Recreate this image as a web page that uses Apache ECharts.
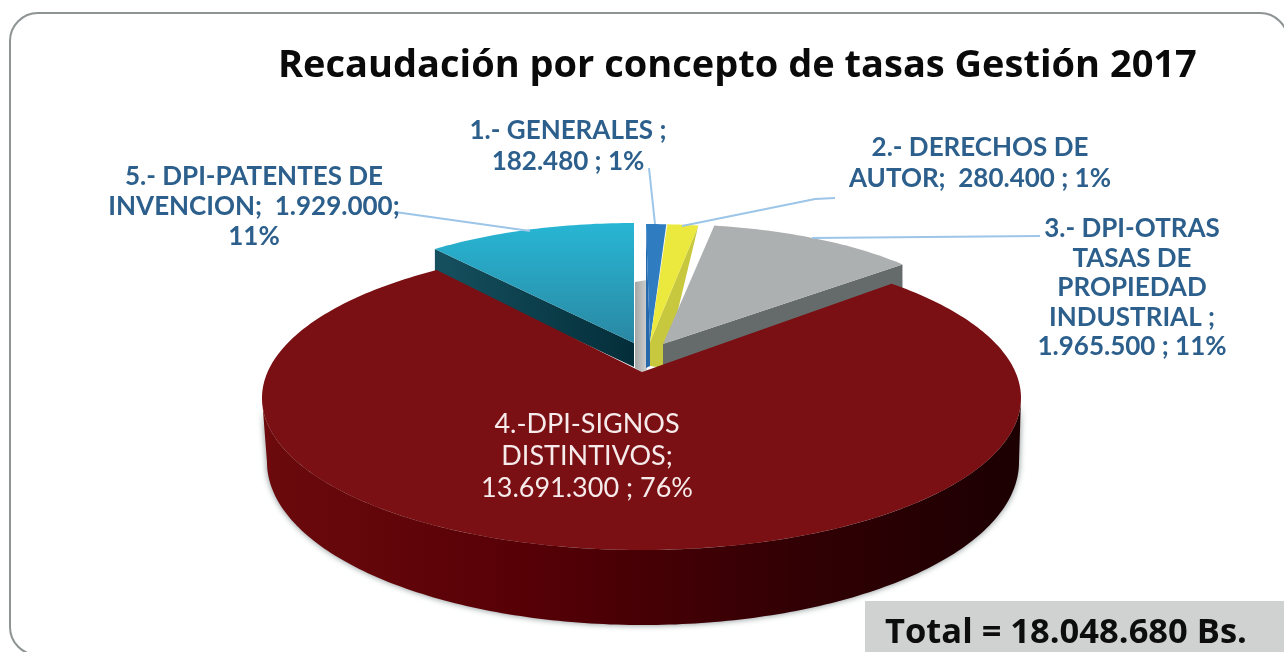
<!DOCTYPE html>
<html>
<head>
<meta charset="utf-8">
<style>
html, body { margin: 0; padding: 0; background: #fff; }
#chart { width: 1284px; height: 652px; }
</style>
<script src="https://cdn.jsdelivr.net/npm/echarts@6/dist/echarts.min.js"></script>
</head>
<body>
<div id="chart"></div>
<script>
const categories = ['1.- GENERALES', '2.- DERECHOS DE AUTOR', '3.- DPI-OTRAS TASAS DE PROPIEDAD INDUSTRIAL', '4.-DPI-SIGNOS DISTINTIVOS', '5.- DPI-PATENTES DE INVENCION'];
const amounts = [182480, 280400, 1965500, 13691300, 1929000];
const percents = [1, 1, 11, 76, 11];
const labelTemplates = [
    '1.- GENERALES ;\n{v} ; {p}',
    '2.- DERECHOS DE\nAUTOR;  {v} ; {p}',
    '3.- DPI-OTRAS\nTASAS DE\nPROPIEDAD\nINDUSTRIAL ;\n{v} ; {p}',
    '4.-DPI-SIGNOS\nDISTINTIVOS;\n{v} ; {p}',
    '5.- DPI-PATENTES DE\nINVENCION;  {v};\n{p}'
];

const FONT = 'Lato, "Open Sans", sans-serif';
const TITLE_FONT = '"Open Sans", Lato, sans-serif';
const LABEL_BLUE = '#2c5f8c';
const LEADER = '#9cc5e8';

// ellipse of the small exploded slices, and their wall height
const SMALL = { rx: 320, ry: 120, depth: 24 };

// apex of each slice top face, ellipse center, and which radial edge shows a wall
const sliceLook = [
    { apex: [650, 342], ell: [646, 344], top: '#2f7cc0', wall: '#2768aa', z: 2, wallAt: 'start', foot: [646, 368] },
    { apex: [650, 342], ell: [647, 344], top: '#ece93e', wall: '#c8c83f', z: 3, wallAt: 'end', foot: [664, 368] },
    { apex: [663, 344], ell: [663, 344], top: '#adb0b0', wall: '#656a6a', z: 4, wallAt: 'end' },
    { apex: [642, 372], ell: [641.5, 398], top: '#7a1013', z: 6, shiftStart: -7.2, shiftEnd: 5.8 },
    { apex: [634, 343], ell: [634, 343], top: new echarts.graphic.LinearGradient(0, 0, 0, 1, [
        { offset: 0, color: '#27b6d4' }, { offset: 1, color: '#2a88a3' }
    ]), wall: new echarts.graphic.LinearGradient(0, 0, 1, 0, [
        { offset: 0, color: '#16505f' }, { offset: 1, color: '#032e39' }
    ]), z: 2, wallAt: 'start' }
];

const labelLook = [
    { x: 568, y: 146, lh: 31, size: 26 },
    { x: 980, y: 163, lh: 31, size: 26 },
    { x: 1132, y: 288, lh: 29.5, size: 26 },
    { x: 587, y: 456, lh: 32, size: 27, color: '#f6eaea', weight: 'normal' },
    { x: 254, y: 207, lh: 30, size: 26 }
];

const leaderLines = [
    [[649, 168], [655, 224]],
    [[682, 226], [815, 199], [835, 198]],
    [[812, 238], [1040, 236]],
    [],
    [[395, 212], [530, 231]]
];

const total = amounts.reduce((a, b) => a + b, 0);

function money(v) {
    return String(v).replace(/\B(?=(\d{3})+(?!\d))/g, '.');
}

function ellipsePoint(cx, cy, rx, ry, deg) {
    const a = deg * Math.PI / 180;
    return [cx + rx * Math.sin(a), cy - ry * Math.cos(a)];
}

function arc(cx, cy, rx, ry, from, to) {
    const pts = [];
    const n = Math.max(2, Math.ceil(Math.abs(to - from)));
    for (let i = 0; i <= n; i++) {
        pts.push(ellipsePoint(cx, cy, rx, ry, from + (to - from) * i / n));
    }
    return pts;
}

function renderSlice(params, api) {
    const i = params.dataIndex;
    const look = sliceLook[i];
    const before = amounts.slice(0, i).reduce((a, b) => a + b, 0);
    const start = before / total * 360 + (look.shiftStart || 0);
    const end = (before + api.value(1)) / total * 360 + (look.shiftEnd || 0);
    const children = [];

    if (i === 3) {
        // big slice, has its own larger ellipse and a deep front wall
        const wall = arc(641.5, 398, 379.5, 152, 90, 270)
            .concat(arc(643, 462, 376, 163, 270, 90));
        children.push({
            type: 'polygon',
            z2: 5,
            shape: { points: wall },
            style: {
                fill: new echarts.graphic.LinearGradient(0, 0, 1, 0, [
                    { offset: 0, color: '#6c0a0d' },
                    { offset: 0.35, color: '#560006' },
                    { offset: 0.7, color: '#320004' },
                    { offset: 1, color: '#1c0002' }
                ]),
                shadowColor: 'rgba(70,85,85,0.7)',
                shadowBlur: 6
            }
        });
        children.push({
            type: 'polygon',
            z2: look.z,
            shape: { points: [look.apex].concat(arc(look.ell[0], look.ell[1], 379.5, 152, start, end)) },
            style: { fill: look.top }
        });
    } else {
        const topArc = arc(look.ell[0], look.ell[1], SMALL.rx, SMALL.ry, start, end);
        // wall below the radial edge that faces the viewer
        const edge = look.wallAt === 'start' ? topArc[0] : topArc[topArc.length - 1];
        const foot = look.foot || [edge[0], edge[1] + SMALL.depth];
        children.push({
            type: 'polygon',
            z2: look.z,
            shape: { points: [look.apex, edge, foot, [look.apex[0], look.apex[1] + SMALL.depth]] },
            style: { fill: look.wall }
        });
        children.push({
            type: 'polygon',
            z2: look.z,
            shape: { points: [look.apex].concat(topArc) },
            style: { fill: look.top }
        });
    }

    leaderLines[i].length && children.push({
        type: 'polyline',
        z2: 8,
        shape: { points: leaderLines[i] },
        style: { stroke: LEADER, lineWidth: 2, fill: 'none' }
    });

    const lab = labelLook[i];
    children.push({
        type: 'text',
        z2: 9,
        style: {
            x: lab.x,
            y: lab.y,
            text: labelTemplates[i].replace('{v}', money(api.value(1))).replace('{p}', percents[i] + '%'),
            font: (lab.weight || 'bold') + ' ' + lab.size + 'px ' + FONT,
            fill: lab.color || LABEL_BLUE,
            align: 'center',
            verticalAlign: 'middle',
            lineHeight: lab.lh
        }
    });

    return { type: 'group', children: children };
}

const myChart = echarts.init(document.getElementById('chart'));

myChart.setOption({
    animation: false,
    backgroundColor: '#fff',
    title: {
        text: 'Recaudación por concepto de tasas Gestión 2017',
        left: 273,
        top: 42,
        textStyle: { fontFamily: TITLE_FONT, fontWeight: 'bold', fontSize: 38, color: '#0a0a0a' }
    },
    graphic: [
        {
            type: 'rect',
            z: -1,
            shape: { x: 10, y: 13, width: 1278, height: 642, r: 28 },
            style: { fill: '#fff', stroke: '#8e9494', lineWidth: 2 }
        },
        {
            type: 'rect',
            z: 1,
            shape: { x: 865, y: 601, width: 419, height: 51 },
            style: { fill: '#d0d2d2' }
        },
        {
            type: 'text',
            z: 2,
            style: {
                x: 885,
                y: 633,
                text: 'Total = ' + money(total) + ' Bs.',
                font: 'bold 34.5px ' + TITLE_FONT,
                fill: '#0d0d0d',
                verticalAlign: 'middle'
            }
        },
        {
            // inner wall showing through the gap between the slices
            type: 'polygon',
            z: 0,
            shape: { points: [[635, 282], [647, 280], [647, 370], [642, 372], [635, 368]] },
            style: {
                fill: new echarts.graphic.LinearGradient(0, 0, 1, 0, [
                    { offset: 0, color: '#a4a6a6' }, { offset: 1, color: '#cfd0d0' }
                ])
            }
        }
    ],
    series: [
        {
            type: 'custom',
            coordinateSystem: 'none',
            silent: true,
            renderItem: renderSlice,
            data: categories.map((name, i) => ({ name: name, value: [i, amounts[i]] }))
        }
    ]
});
</script>
</body>
</html>
